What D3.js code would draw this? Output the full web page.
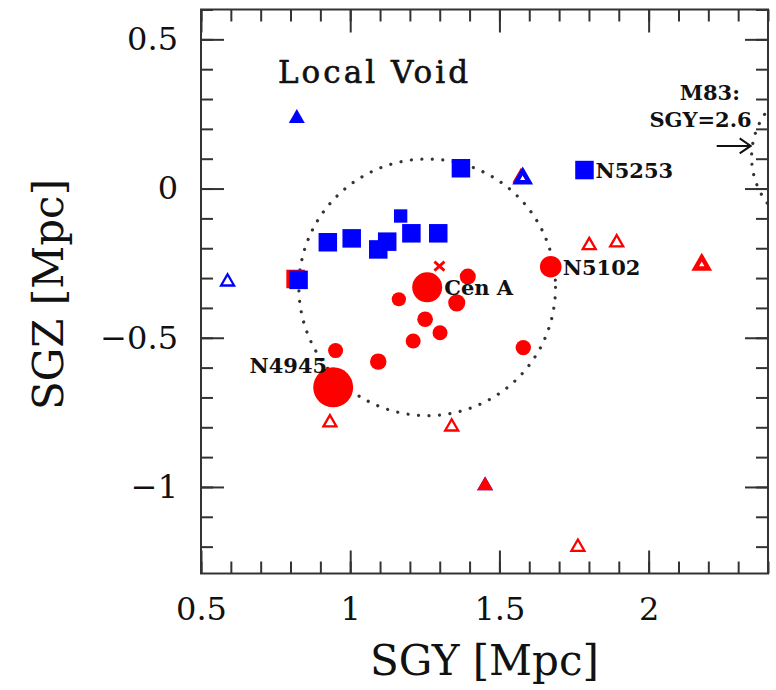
<!DOCTYPE html>
<html lang="en">
<head>
<meta charset="UTF-8">
<title>Centaurus A group: SGY vs SGZ</title>
<script src="https://d3js.org/d3.v7.min.js"></script>
<style>
    body { margin: 0; background: #fff; }
    .frame { fill: none; stroke: #333; stroke-width: 2; }
    .axis path { display: none; }
    .axis line { stroke: #333; stroke-width: 2; }
    .axis text { font-family: 'DejaVu Serif', serif; font-size: 32px; fill: #111; }
    .title { font-family: 'DejaVu Serif', serif; font-size: 42px; fill: #111; }
    .label { font-family: 'DejaVu Serif', serif; font-size: 21px; font-weight: bold; fill: #111; }
    .ring { fill: none; stroke: #333; stroke-width: 3.2; stroke-linecap: round; stroke-dasharray: 0.01 10.5; }
</style>
</head>
<body>
<script>
    // axis ticks
    const xTickValues = [0.5, 1, 1.5, 2];
    const xTickLabels = ['0.5', '1', '1.5', '2'];
    const yTickValues = [0.5, 0, -0.5, -1];
    const yTickLabels = ['0.5', '0', '\u22120.5', '\u22121'];

    // galaxies, SGY / SGZ in Mpc; lum = relative symbol weight
    const redCircles = [
        {name: 'Cen A', x: 1.258, y: -0.331, lum: 4.0},
        {name: 'N4945', x: 0.943, y: -0.666, lum: 7.1},
        {name: 'N5102', x: 1.672, y: -0.262, lum: 2.07},
        {name: '', x: 1.394, y: -0.295, lum: 1.14},
        {name: '', x: 1.163, y: -0.371, lum: 0.9},
        {name: '', x: 1.357, y: -0.383, lum: 1.3},
        {name: '', x: 1.251, y: -0.438, lum: 1.1},
        {name: '', x: 1.301, y: -0.483, lum: 1.0},
        {name: '', x: 1.211, y: -0.511, lum: 1.0},
        {name: '', x: 0.951, y: -0.543, lum: 1.0},
        {name: '', x: 1.094, y: -0.580, lum: 1.2},
        {name: '', x: 1.580, y: -0.533, lum: 1.05}
    ];
    const redSquares = [{x: 0.817, y: -0.303, lum: 1}];
    const blueSquares = [
        {name: '', x: 1.371, y: 0.068, lum: 1},
        {name: 'N5253', x: 1.785, y: 0.062, lum: 1},
        {name: '', x: 0.925, y: -0.180, lum: 1},
        {name: '', x: 1.005, y: -0.167, lum: 1},
        {name: '', x: 1.094, y: -0.204, lum: 1},
        {name: '', x: 1.124, y: -0.178, lum: 1},
        {name: '', x: 1.169, y: -0.092, lum: 0.52},
        {name: '', x: 1.205, y: -0.150, lum: 1},
        {name: '', x: 1.295, y: -0.150, lum: 1},
        {name: '', x: 0.827, y: -0.306, lum: 1}
    ];
    const blueFilledTri = [{x: 0.821, y: 0.243}, {x: 1.452, y: -0.988}];
    const blueOpenTri = [{x: 0.589, y: -0.306}, {x: 2.178, y: -0.249}];
    const redOpenTri = [
        {x: 0.932, y: -0.778}, {x: 1.340, y: -0.792}, {x: 1.801, y: -0.184},
        {x: 1.893, y: -0.175}, {x: 1.763, y: -1.195}, {x: 1.572, y: 0.043}
    ];
    const blueThickTri = [{x: 1.578, y: 0.040}];
    const redThickTri = [{x: 2.178, y: -0.249}];
    const redFilledTri = [{x: 1.452, y: -0.988}];
    const redCross = [{x: 1.299, y: -0.260}];

    // group rings (centre, radius in Mpc)
    const cenARing = {x: 1.258, y: -0.331, r: 0.43};
    const m83Ring = {x: 2.6, y: 0.106, r: 0.255};

    const width = 776, height = 690;
    const plot = {left: 201, right: 768, top: 9.5, bottom: 573.5};

    const x = d3.scaleLinear().domain([0.5, 2.4]).range([plot.left, plot.right]);
    const y = d3.scaleLinear().domain([-1.29, 0.6]).range([plot.bottom, plot.top]);
    const rCircle = d3.scaleSqrt().domain([0, 1]).range([0, 7.5]);
    const sSquare = d3.scaleSqrt().domain([0, 1]).range([0, 18.5]);

    const svg = d3.select('body').append('svg')
        .attr('width', width)
        .attr('height', height);

    svg.append('defs').append('clipPath').attr('id', 'clip')
        .append('rect')
        .attr('x', plot.left).attr('y', plot.top)
        .attr('width', plot.right - plot.left)
        .attr('height', plot.bottom - plot.top);

    // ticks on all four sides, pointing inwards
    const major = 23, minor = 12;
    function addAxis(axis, tx, ty) {
        svg.append('g').attr('class', 'axis')
            .attr('transform', `translate(${tx},${ty})`)
            .call(axis);
    }
    addAxis(d3.axisBottom(x).ticks(19).tickSize(-minor).tickFormat(''), 0, plot.bottom);
    addAxis(d3.axisTop(x).ticks(19).tickSize(-minor).tickFormat(''), 0, plot.top);
    addAxis(d3.axisLeft(y).ticks(19).tickSize(-minor).tickFormat(''), plot.left, 0);
    addAxis(d3.axisRight(y).ticks(19).tickSize(-minor).tickFormat(''), plot.right, 0);
    addAxis(d3.axisBottom(x).tickValues(xTickValues).tickSize(-major).tickPadding(24)
        .tickFormat((d, i) => xTickLabels[i]), 0, plot.bottom);
    addAxis(d3.axisTop(x).tickValues(xTickValues).tickSize(-major).tickFormat(''), 0, plot.top);
    addAxis(d3.axisLeft(y).tickValues(yTickValues).tickSize(-major).tickPadding(23)
        .tickFormat((d, i) => yTickLabels[i]), plot.left, 0);
    addAxis(d3.axisRight(y).tickValues(yTickValues).tickSize(-major).tickFormat(''), plot.right, 0);

    svg.append('rect').attr('class', 'frame')
        .attr('x', plot.left).attr('y', plot.top)
        .attr('width', plot.right - plot.left)
        .attr('height', plot.bottom - plot.top);

    // axis titles
    svg.append('text').attr('class', 'title')
        .attr('x', (plot.left + plot.right) / 2)
        .attr('y', 675)
        .attr('text-anchor', 'middle')
        .text('SGY [Mpc]');
    svg.append('text').attr('class', 'title')
        .attr('transform', `translate(63,${(plot.top + plot.bottom) / 2 + 3}) rotate(-90)`)
        .attr('text-anchor', 'middle')
        .text('SGZ [Mpc]');

    const g = svg.append('g').attr('clip-path', 'url(#clip)');

    // dotted rings
    [cenARing, m83Ring].forEach(c => {
        g.append('circle').attr('class', 'ring')
            .attr('cx', x(c.x)).attr('cy', y(c.y))
            .attr('r', x(c.x + c.r) - x(c.x));
    });

    function tri(s) {
        const h = s * Math.sqrt(3) / 2;
        return `M0,${-h / 2}L${s / 2},${h / 2}L${-s / 2},${h / 2}Z`;
    }

    function triangles(data, s, fill, stroke, sw) {
        g.selectAll(null).data(data).enter().append('path')
            .attr('d', tri(s))
            .attr('transform', d => `translate(${x(d.x)},${y(d.y)})`)
            .attr('fill', fill)
            .attr('stroke', stroke)
            .attr('stroke-width', sw)
            .attr('stroke-linejoin', 'miter');
    }

    function squares(data, color) {
        g.selectAll(null).data(data).enter().append('rect')
            .attr('x', d => x(d.x) - sSquare(d.lum) / 2)
            .attr('y', d => y(d.y) - sSquare(d.lum) / 2)
            .attr('width', d => sSquare(d.lum))
            .attr('height', d => sSquare(d.lum))
            .attr('fill', color);
    }

    triangles(blueFilledTri, 16, '#0000ff', 'none', 0);
    triangles(redFilledTri, 16, '#ff0000', 'none', 0);
    triangles(redOpenTri, 13, 'none', '#ff0000', 2.3);
    triangles(blueOpenTri, 13, 'none', '#0000ff', 2.3);
    triangles(blueThickTri, 13, 'none', '#0000ff', 4.5);
    triangles(redThickTri, 13, 'none', '#ff0000', 4.5);

    g.selectAll(null).data(redCircles).enter().append('circle')
        .attr('cx', d => x(d.x))
        .attr('cy', d => y(d.y))
        .attr('r', d => rCircle(d.lum))
        .attr('fill', '#ff0000');

    g.selectAll(null).data(redCross).enter().append('path')
        .attr('d', 'M-5,-4.5L5,4.5M-5,4.5L5,-4.5')
        .attr('transform', d => `translate(${x(d.x)},${y(d.y)})`)
        .attr('stroke', '#ff0000')
        .attr('stroke-width', 2.8);

    squares(redSquares, '#ff0000');
    squares(blueSquares, '#0000ff');

    // labels
    const labelled = [
        {d: blueSquares[1], dx: 11, dy: 8, anchor: 'start'},
        {d: redCircles[2], dx: 12, dy: 8, anchor: 'start'},
        {d: redCircles[0], dx: 17, dy: 8, anchor: 'start'},
        {d: redCircles[1], dx: -6, dy: -14, anchor: 'end'}
    ];
    labelled.forEach(l => {
        svg.append('text').attr('class', 'label')
            .attr('x', x(l.d.x) + l.dx)
            .attr('y', y(l.d.y) + l.dy)
            .attr('text-anchor', l.anchor)
            .text(l.d.name);
    });

    svg.append('text').attr('class', 'label')
        .attr('x', 278).attr('y', 83)
        .attr('textLength', 190)
        .style('font-size', '31px')
        .style('font-weight', 'normal')
        .style('stroke', '#111').style('stroke-width', 0.6)
        .text('Local Void');

    // M83 pointer
    const mx = x(m83Ring.x), my = y(m83Ring.y);
    svg.append('text').attr('class', 'label')
        .attr('x', mx - 148).attr('y', my - 57)
        .text('M83:');
    svg.append('text').attr('class', 'label')
        .attr('x', mx - 76).attr('y', my - 30)
        .attr('text-anchor', 'end')
        .text('SGY=2.6');
    svg.append('path')
        .attr('d', `M${mx - 111},${my - 11}H${mx - 77}M${mx - 88},${my - 18.5}L${mx - 77},${my - 11}L${mx - 88},${my - 3.5}`)
        .attr('fill', 'none')
        .attr('stroke', '#111')
        .attr('stroke-width', 2);
</script>
</body>
</html>
